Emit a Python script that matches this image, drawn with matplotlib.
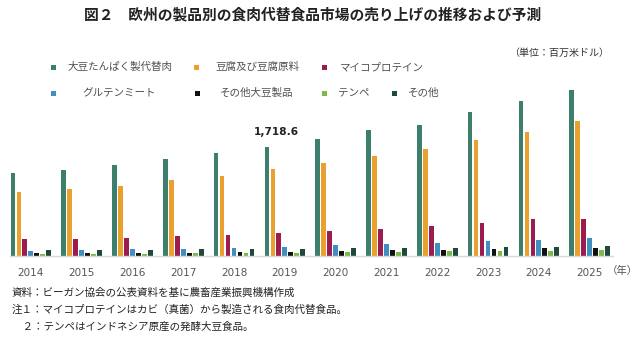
import matplotlib
matplotlib.use("Agg")
import matplotlib.pyplot as plt
from matplotlib.patches import Rectangle
import numpy as np

plt.rcParams['font.family'] = ['Noto Sans CJK JP', 'DejaVu Sans']

years = ["2014", "2015", "2016", "2017", "2018", "2019",
         "2020", "2021", "2022", "2023", "2024", "2025"]

series_names = ["大豆たんぱく製代替肉", "豆腐及び豆腐原料", "マイコプロテイン",
                "グルテンミート", "その他大豆製品", "テンペ", "その他"]

soy_meat = [1309, 1361, 1430, 1524, 1619, 1718.6, 1850, 1982, 2060, 2276, 2449, 2623]
tofu = [1004, 1051, 1109, 1193, 1267, 1367, 1461, 1572, 1692, 1824, 1960, 2123]
mycoprotein = [263, 273, 289, 315, 326, 363, 399, 431, 473, 515, 589, 589]
gluten = [84, 100, 116, 116, 126, 142, 179, 194, 205, 231, 258, 284]
other_soy = [47, 47, 53, 53, 58, 63, 79, 95, 95, 105, 126, 126]
tempeh = [32, 32, 37, 42, 42, 42, 68, 68, 79, 84, 84, 95]
other = [95, 95, 100, 110, 110, 110, 131, 131, 131, 147, 147, 163]

series = [soy_meat, tofu, mycoprotein, gluten, other_soy, tempeh, other]
colors = ["#3b7f6c", "#e9a02f", "#9c1c50", "#3f8fc0", "#111111", "#7cb84a", "#1d4a3c"]

fig = plt.figure(figsize=(6.4, 3.38), dpi=100)
ax = fig.add_axes([10 / 640, 82 / 338, 603 / 640, 176 / 338])

x = np.arange(len(years))
slot = 0.118
width = 0.092
for i, (vals, c) in enumerate(zip(series, colors)):
    ax.bar(x + (i - 3) * slot, vals, width=width, color=c, linewidth=0)

ax.annotate("1,718.6", xy=(x[5] - 3 * slot, soy_meat[5]), xytext=(7, 7),
            textcoords="offset points", ha="center", va="bottom",
            fontsize=7.6, fontweight="bold", color="#222222",
            family=["DejaVu Sans"])

ax.set_xlim(-0.41, 11.46)
ax.set_ylim(0, 2775)
for s in ["top", "right", "left"]:
    ax.spines[s].set_visible(False)
ax.spines["bottom"].set_color("#d9d9d9")
ax.spines["bottom"].set_linewidth(1)
ax.set_yticks([])
ax.set_xticks(x)
ax.set_xticklabels(years, fontsize=7.5, color="#555555", family=["DejaVu Sans"])
ax.tick_params(axis="x", length=0, pad=9)

fig.text(622 / 640, 1 - 271 / 338, "（年）", fontsize=7.5, color="#555555",
         ha="center", va="center")

fig.text(313 / 640, 1 - 14 / 338, "図２　欧州の製品別の食肉代替食品市場の売り上げの推移および予測",
         fontsize=10.6, fontweight="bold", ha="center", va="center", color="#222222")
fig.text(609 / 640, 1 - 53 / 338, "（単位：百万米ドル）", fontsize=7.2,
         ha="right", va="center", color="#333333")

# legend, placed like the original two rows
leg_pos = [(53, 67, 68), (196, 67, 215), (324, 67, 340),
           (53, 93, 82), (197, 93, 220), (324, 93, 338), (394, 93, 408)]
for (mx, my, tx), name, c in zip(leg_pos, series_names, colors):
    fig.patches.append(Rectangle(((mx - 2.5) / 640, 1 - (my + 2.5) / 338), 5 / 640, 5 / 338,
                                 transform=fig.transFigure, color=c, linewidth=0))
    fig.text(tx / 640, 1 - my / 338, name, fontsize=7.6, color="#505050",
             ha="left", va="center")

notes = ["資料：ビーガン協会の公表資料を基に農畜産業振興機構作成",
         "注１：マイコプロテインはカビ（真菌）から製造される食肉代替食品。",
         "　２：テンペはインドネシア原産の発酵大豆食品。"]
for i, n in enumerate(notes):
    fig.text(12 / 640, 1 - (293 + 17 * i) / 338, n, fontsize=7.6, color="#222222",
             ha="left", va="center")

fig.savefig("out.png", dpi=100)
